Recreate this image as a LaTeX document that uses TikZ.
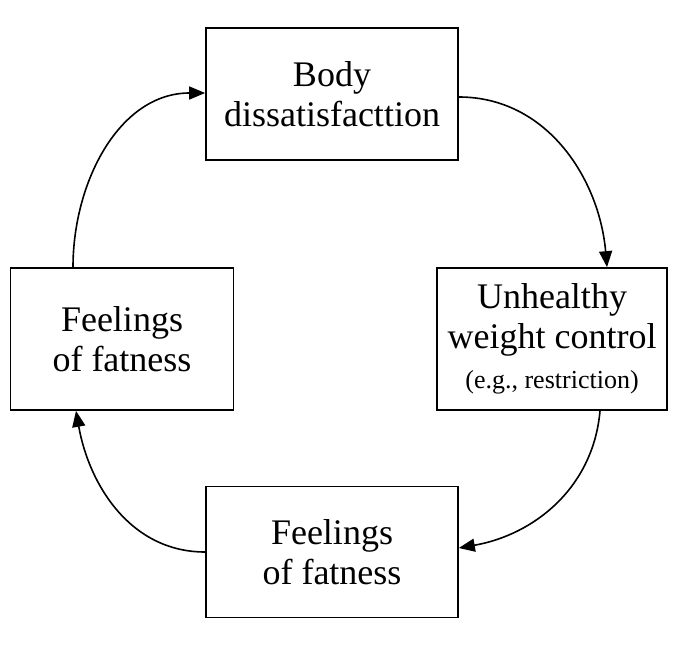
\documentclass[tikz,border=0pt]{standalone}
\usepackage{fontspec}
\setmainfont{Liberation Serif}
\usetikzlibrary{arrows.meta}
\begin{document}
\begin{tikzpicture}[x=1pt,y=-1pt,
 box/.style={draw,line width=1.7pt,align=center,inner sep=0pt,font=\fontsize{36}{40}\selectfont},
 arr/.style={line width=1.6pt,-{Triangle[length=16pt,width=13pt]}}]
\useasboundingbox (0,0) rectangle (685,663);
\node[box,minimum width=252,minimum height=132] (t) at (332,94) {Body\\dissatisfacttion};
\node[box,minimum width=230,minimum height=142] (r) at (552,339) {Unhealthy\\weight control\\{\fontsize{26}{32}\selectfont (e.g., restriction)}};
\node[box,minimum width=252,minimum height=131] (b) at (332,552) {Feelings\\of fatness};
\node[box,minimum width=223,minimum height=142] (l) at (122,339) {Feelings\\of fatness};
\draw[arr] (t.east) ++(0,3) to[out=0,in=95] ([xshift=55pt]r.north);
\draw[arr] ([xshift=48pt]r.south) to[out=-95,in=10] ([yshift=4pt]b.east);
\draw[arr] (b.west) to[out=180,in=-80] ([xshift=-46pt]l.south);
\draw[arr] ([xshift=-49pt]l.north) to[out=90,in=180] ([yshift=1pt]t.west);
\end{tikzpicture}
\end{document}
